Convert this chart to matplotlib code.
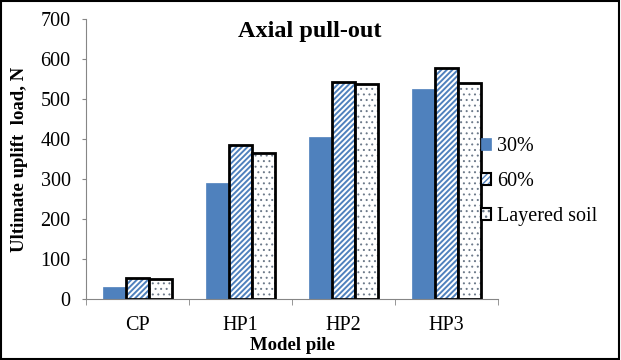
import numpy as np
import matplotlib as mpl
import matplotlib.pyplot as plt
from matplotlib.patches import Rectangle
from matplotlib.legend_handler import HandlerTuple

piles = ["CP", "HP1", "HP2", "HP3"]
vals_30 = [30, 290, 405, 525]
vals_60 = [52, 385, 543, 577]
vals_layered = [50, 365, 538, 540]
series_names = ["30%", "60%", "Layered soil"]
yticks = [0, 100, 200, 300, 400, 500, 600, 700]

blue = "#4f81bd"
dot_gray = "#6d7a8a"
plt.rcParams["font.family"] = ["Liberation Serif", "DejaVu Serif"]


def hatched_bars(ax, xs, heights, width, hatch, hcolor, hlw):
    # hatch fill without outline, then a black outline on top
    with mpl.rc_context({"hatch.linewidth": hlw}):
        bars = ax.bar(xs, heights, width, color="white", edgecolor=hcolor,
                      hatch=hatch, linewidth=0)
        for b in bars:
            if hasattr(b, "set_hatch_linewidth"):
                b.set_hatch_linewidth(hlw)
    ax.bar(xs, heights, width, fill=False, edgecolor="black", linewidth=2)
    return bars[0]


fig = plt.figure(figsize=(6.21, 3.6), dpi=100)
ax = fig.add_axes([86 / 621, 1 - 299 / 360, 412 / 621, 280 / 360])

x = np.arange(len(piles))
w = 0.225

b30 = ax.bar(x - w, vals_30, w, color=blue, edgecolor=blue, linewidth=0.5)
h60 = hatched_bars(ax, x, vals_60, w, "//////", blue, 1.4)
hlay = hatched_bars(ax, x + w, vals_layered, w, "...", dot_gray, 0.7)

ax.set_xlim(-0.5, 3.5)
ax.set_ylim(0, 700)
ax.set_yticks(yticks)
ax.set_yticklabels([str(t) for t in yticks], fontsize=14.5)
ax.set_xticks(x)
ax.set_xticklabels(piles, fontsize=14.5)
ax.set_xticks(np.arange(-0.5, 4.0, 1.0), minor=True)
ax.tick_params(axis="x", which="major", length=0, pad=12)
ax.tick_params(axis="x", which="minor", length=4, color="#868686", direction="out")
ax.tick_params(axis="y", length=3, pad=8, color="#868686", direction="out")
for s in ["top", "right"]:
    ax.spines[s].set_visible(False)
for s in ["left", "bottom"]:
    ax.spines[s].set_color("#868686")

ax.set_xlabel("Model pile", fontsize=13.5, fontweight="bold", labelpad=2)
ax.set_ylabel("Ultimate uplift  load, N", fontsize=13.5, fontweight="bold")
ax.yaxis.set_label_coords(-0.14, 0.5)
ax.text(0.544, 0.954, "Axial pull-out", transform=ax.transAxes, ha="center",
        va="center", fontsize=17.5, fontweight="bold")

# legend: hatch patch + black outline patch per entry
outline = Rectangle((0, 0), 1, 1, fill=False, edgecolor="black", linewidth=1.5)
handles = [b30[0], (h60, outline), (hlay, outline)]
fig.legend(handles, series_names, loc="upper left", bbox_to_anchor=(481 / 621, 1 - 137 / 360),
           frameon=False, fontsize=14.5, handlelength=0.5, handleheight=0.5,
           handletextpad=0.3, labelspacing=0.8, borderpad=0, borderaxespad=0,
           handler_map={tuple: HandlerTuple(ndivide=1, pad=0)})

fig.add_artist(Rectangle((0.002, 0.003), 0.995, 0.994, transform=fig.transFigure,
                         fill=False, edgecolor="black", linewidth=1.5))

fig.savefig("out.png", dpi=100)
